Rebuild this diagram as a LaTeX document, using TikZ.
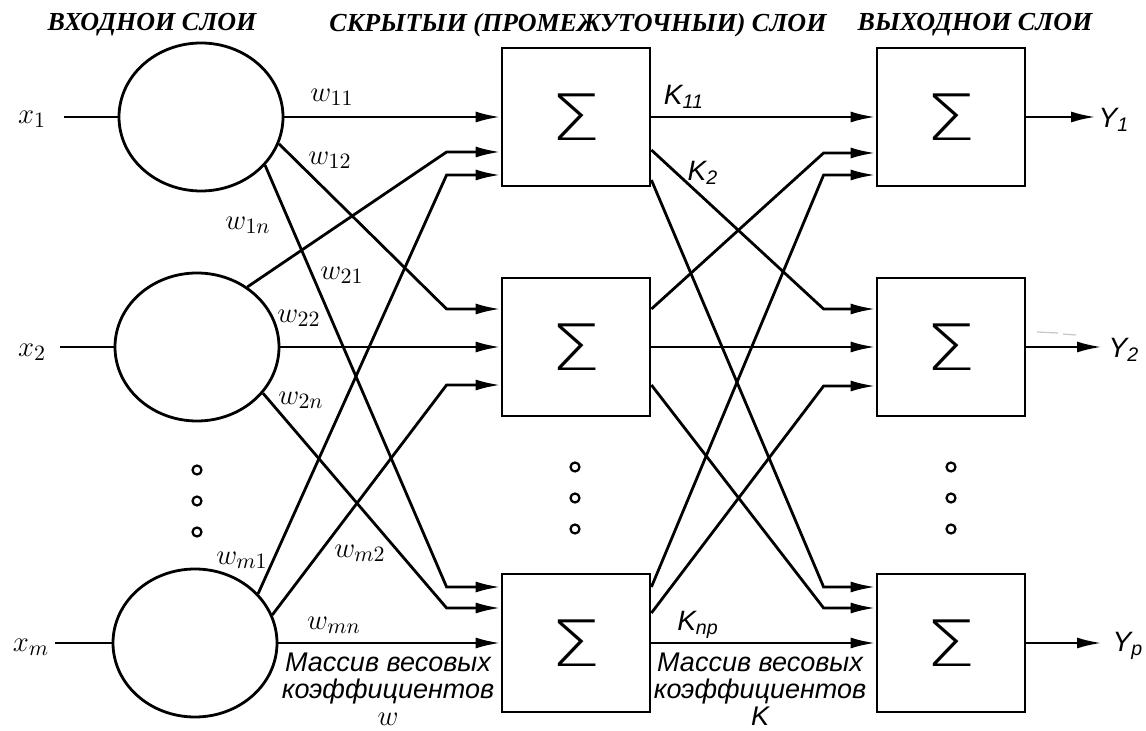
\documentclass[tikz,border=0pt]{standalone}
\usepackage{fontspec}
\setmainfont{Liberation Serif}
\newfontfamily\gostfont{Liberation Sans}
\newfontfamily\sigmafont{DejaVu Sans ExtraLight}
\usetikzlibrary{arrows.meta,calc,shapes.geometric}

\begin{document}
\begin{tikzpicture}[x=0.5pt,y=-0.5pt,
  wire/.style={line width=1.4pt},
  arr/.style={wire,-{Latex[length=12.5pt,width=5.5pt]}},
  neuron/.style={draw,line width=1.4pt,ellipse,minimum width=82pt,minimum height=74pt,inner sep=0pt},
  sumbox/.style={draw,line width=1.4pt,rectangle,minimum width=74pt,minimum height=69pt,inner sep=0pt,
    font=\sigmafont\fontsize{32}{32}\selectfont},
  header/.style={font=\bfseries\itshape\fontsize{13}{13}\selectfont},
  wlab/.style={font=\fontsize{15}{15}\selectfont},
  klab/.style={font=\gostfont\itshape\fontsize{14}{14}\selectfont},
  note/.style={font=\gostfont\itshape\fontsize{13.5}{13.4}\selectfont,align=center},
  dot/.style={draw,line width=1.1pt,circle,minimum size=4.5pt,inner sep=0pt}
]
\useasboundingbox (0,0) rectangle (1146,731);

% layer titles
\node[header] (t1) at (152,25) {ВХОДНОИ СЛОИ};
\node[header] (t2) at (578,25) {СКРЫТЫИ (ПРОМЕЖУТОЧНЫИ) СЛОИ};
\node[header] (t3) at (975,25) {ВЫХОДНОИ СЛОИ};

% input neurons
\node[neuron] (c1) at (201,117) {};
\node[neuron] (c2) at (197,347) {};
\node[neuron] (c3) at (195,643) {};

% hidden summators
\node[sumbox] (h1) at (576,117) {\scalebox{1.25}[1]{Σ}};
\node[sumbox] (h2) at (576,347) {\scalebox{1.25}[1]{Σ}};
\node[sumbox] (h3) at (576,643) {\scalebox{1.25}[1]{Σ}};

% output summators
\node[sumbox] (o1) at (951,117) {\scalebox{1.25}[1]{Σ}};
\node[sumbox] (o2) at (951,347) {\scalebox{1.25}[1]{Σ}};
\node[sumbox] (o3) at (951,643) {\scalebox{1.25}[1]{Σ}};

% inputs
\coordinate (i1) at (64,117);
\coordinate (i2) at (60,347);
\coordinate (i3) at (55,643);
\node[wlab] (x1) at (32,119) {$x_1$};
\node[wlab] (x2) at (32,352) {$x_2$};
\node[wlab] (xm) at (31,647) {$x_m$};
\draw[wire] (i1) -- (c1.west);
\draw[wire] (i2) -- (c2.west);
\draw[wire] (i3) -- (c3.west);

% input -> hidden weights
\draw[arr] (c1.east) -- (h1.west);
\draw[arr] (c1.-19) -- ($(h2.west)+(-54,-38)$) -- ($(h2.west)+(0,-38)$);
\draw[arr] (c1.-37) -- ($(h3.west)+(-54,-56)$) -- ($(h3.west)+(0,-56)$);
\draw[arr] (c2.50) -- ($(h1.west)+(-54,35)$) -- ($(h1.west)+(0,35)$);
\draw[arr] (c2.east) -- (h2.west);
\draw[arr] (c2.-35) -- ($(h3.west)+(-54,-35)$) -- ($(h3.west)+(0,-35)$);
\draw[arr] (c3.38) -- ($(h1.west)+(-54,58)$) -- ($(h1.west)+(0,58)$);
\draw[arr] (c3.20) -- ($(h2.west)+(-54,38)$) -- ($(h2.west)+(0,38)$);
\draw[arr] (c3.east) -- (h3.west);

% hidden -> output weights
\draw[arr] (h1.east) -- (o1.west);
\draw[arr] ($(h1.east)+(0,33)$) -- ($(o2.west)+(-52,-38)$) -- ($(o2.west)+(0,-38)$);
\draw[arr] ($(h1.east)+(0,63)$) -- ($(o3.west)+(-52,-56)$) -- ($(o3.west)+(0,-56)$);
\draw[arr] ($(h2.east)+(0,-38)$) -- ($(o1.west)+(-52,36)$) -- ($(o1.west)+(0,36)$);
\draw[arr] (h2.east) -- (o2.west);
\draw[arr] ($(h2.east)+(0,38)$) -- ($(o3.west)+(-52,-35)$) -- ($(o3.west)+(0,-35)$);
\draw[arr] ($(h3.east)+(0,-56)$) -- ($(o1.west)+(-52,58)$) -- ($(o1.west)+(0,58)$);
\draw[arr] ($(h3.east)+(0,-30)$) -- ($(o2.west)+(-52,39)$) -- ($(o2.west)+(0,39)$);
\draw[arr] (h3.east) -- (o3.west);

% outputs
\coordinate (e1) at (1096,117);
\coordinate (e2) at (1102,347);
\coordinate (e3) at (1102,643);
\draw[arr] (o1.east) -- (e1);
\draw[arr] (o2.east) -- (e2);
\draw[arr] (o3.east) -- (e3);
\node[klab] (y1) at (1114,120) {Y\textsubscript{1}};
\node[klab] (y2) at (1124,350) {Y\textsubscript{2}};
\node[klab] (yp) at (1128,646) {Y\textsubscript{p}};
\draw[gray!45,line width=0.6pt] (1037,332) -- (1058,333) (1063,334) -- (1076,335);

% weight labels
\node[wlab] (lw11) at (332,97) {$w_{11}$};
\node[wlab] (lw12) at (330,160) {$w_{12}$};
\node[wlab] (lw1n) at (248,225) {$w_{1n}$};
\node[wlab] (lw21) at (342,275) {$w_{21}$};
\node[wlab] (lw22) at (299,318) {$w_{22}$};
\node[wlab] (lw2n) at (301,400) {$w_{2n}$};
\node[wlab] (lwm1) at (242,560) {$w_{m1}$};
\node[wlab] (lwm2) at (360,553) {$w_{m2}$};
\node[wlab] (lwmn) at (334,625) {$w_{mn}$};
\node[klab] (lk11) at (684,97) {K\textsubscript{11}};
\node[klab] (lk2) at (703,173) {K\textsubscript{2}};
\node[klab] (lknp) at (698,625) {K\textsubscript{np}};

% weight matrix captions
\node[note] (mw) at (388,689) {Массив весовых\\коэффициентов\\$w$};
\node[note] (mk) at (760,689) {Массив весовых\\коэффициентов\\K};

% ellipsis dots
\foreach \yy [count=\k] in {470,501,532} {
  \node[dot] (dl\k) at (197,\yy) {};
  \node[dot] (dm\k) at (575,\yy-3) {};
  \node[dot] (dr\k) at (951,\yy-3) {};
}
\end{tikzpicture}
\end{document}
